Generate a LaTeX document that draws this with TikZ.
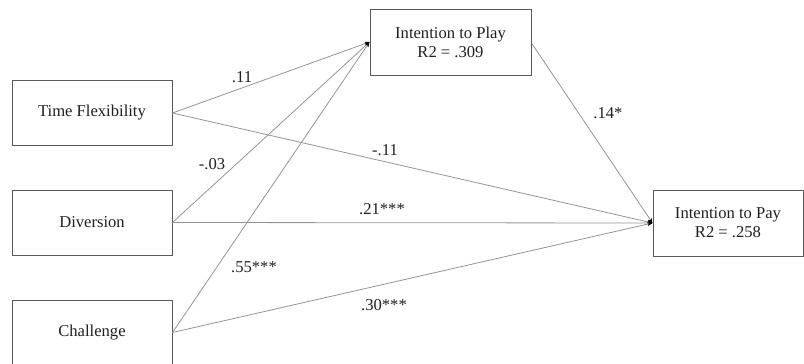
\documentclass[tikz,border=0pt]{standalone}
\usepackage{fontspec}
\setmainfont{Liberation Serif}
\usetikzlibrary{arrows.meta}
\begin{document}
\begin{tikzpicture}[x=1pt,y=-1pt,
  box/.style={draw=black!65,line width=1pt,minimum width=160pt,minimum height=65pt,inner sep=0pt,align=center,font=\fontsize{16.6}{19}\selectfont,text=black!88},
  path/.style={draw=black!42,line width=0.8pt,-{Stealth[length=5pt,width=4pt,black]}},
  lbl/.style={font=\fontsize{16.6}{19}\selectfont,text=black!88,inner sep=0pt}]
\useasboundingbox (0,0) rectangle (804,364);
\node[box] (tf) at (92,113) {Time Flexibility};
\node[box] (dv) at (92,222.5) {Diversion};
\node[box] (ch) at (92,332.5) {Challenge};
\node[box,minimum width=161pt,minimum height=66pt] (ip) at (450.5,42) {Intention to Play\\R2 = .309};
\node[box,minimum width=150pt,minimum height=66pt] (ipay) at (728,223) {Intention to Pay\\R2 = .258};
\draw[path] (tf.east) -- (ip.west);
\draw[path] (tf.east) -- (ipay.west);
\draw[path] (dv.east) -- (ip.west);
\draw[path] (dv.east) -- (ipay.west);
\draw[path] (ch.east) -- (ip.west);
\draw[path] (ch.east) -- (ipay.west);
\draw[path] (ip.east) ++(0,1) coordinate (ipe) (ipe) -- (ipay.west);
\node[lbl] (l1) at (242,77) {.11};
\node[lbl] (l2) at (212,164) {-.03};
\node[lbl] (l3) at (385,150) {-.11};
\node[lbl] (l4) at (608,113) {.14*};
\node[lbl] (l5) at (382,209) {.21***};
\node[lbl] (l6) at (254,267) {.55***};
\node[lbl] (l7) at (384,305) {.30***};
\end{tikzpicture}
\end{document}
